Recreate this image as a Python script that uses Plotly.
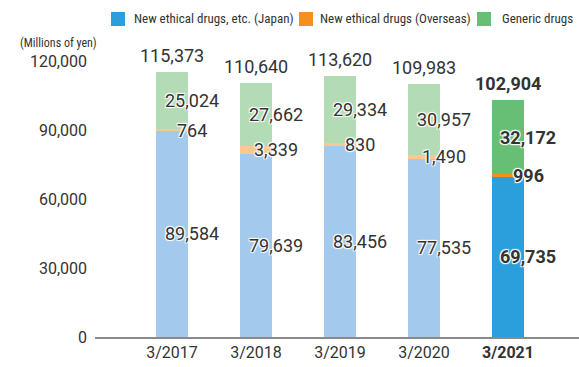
import plotly.graph_objects as go

# Fiscal years
years = ["3/2017", "3/2018", "3/2019", "3/2020", "3/2021"]

# Net sales by segment (millions of yen)
japan = [89584, 79639, 83456, 77535, 69735]
overseas = [764, 3339, 830, 1490, 996]
generic = [25024, 27662, 29334, 30957, 32172]
totals = [115373, 110640, 113620, 109983, 102904]

series_names = ["New ethical drugs, etc. (Japan)", "New ethical drugs (Overseas)", "Generic drugs"]
dark_colors = ["#2A9FDB", "#F39020", "#66BF75"]
light_colors = ["#A3C9EC", "#FCC88E", "#B3DCB6"]

y_ticks = [0, 30000, 60000, 90000, 120000]

label_font = "Roboto, Arial, sans-serif"
narrow_font = "'Roboto Condensed', 'Liberation Sans Narrow', 'DejaVu Sans Condensed', Roboto, sans-serif"
halo = "1px 1px 1px #fff, -1px -1px 1px #fff, 1px -1px 1px #fff, -1px 1px 1px #fff"

fig = go.Figure()

segments = [japan, overseas, generic]
last = len(years) - 1
for name, vals, dark, light in zip(series_names, segments, dark_colors, light_colors):
    colors = [dark if i == last else light for i in range(len(years))]
    fig.add_trace(go.Bar(
        x=years, y=vals, name=name, width=0.37,
        marker=dict(color=colors, line=dict(width=0)),
        showlegend=False, hoverinfo="skip",
    ))

annotations = []
for i, yr in enumerate(years):
    bold = i == last
    base = 0
    for vals in segments:
        v = vals[i]
        txt = f"{v:,}"
        annotations.append(dict(
            x=yr, y=base + v / 2, text=f"<b>{txt}</b>" if bold else txt,
            showarrow=False, xshift=20, xanchor="center", yanchor="middle",
            font=dict(family=label_font, size=18, color="#333333", shadow=halo),
        ))
        base += v
    t = totals[i]
    annotations.append(dict(
        x=yr, y=t, text=f"<b>{t:,}</b>" if bold else f"{t:,}",
        showarrow=False, yanchor="bottom", yshift=4,
        font=dict(family=label_font, size=18, color="#333333"),
    ))

# Unit label above the value axis
annotations.append(dict(
    x=-0.0764, y=1.065, xref="paper", yref="paper", text="(Millions of yen)",
    showarrow=False, xanchor="center", yanchor="middle",
    font=dict(family=narrow_font, size=12, color="#333333"),
))

# Legend row: colour key squares with their labels
shapes = []
key_x = [0.0331, 0.4215, 0.7893]
text_x = [0.0764, 0.4607, 0.8368]
for name, dark, kx, tx in zip(series_names, dark_colors, key_x, text_x):
    shapes.append(dict(
        type="rect", xref="paper", yref="paper",
        x0=kx, x1=kx + 0.0289, y0=1.1268, y1=1.1775,
        fillcolor=dark, line=dict(width=0),
    ))
    annotations.append(dict(
        x=tx, y=1.1522, xref="paper", yref="paper", text=name,
        showarrow=False, xanchor="left", yanchor="middle",
        font=dict(family=narrow_font, size=13, color="#333333"),
    ))

fig.update_layout(
    width=579, height=367,
    margin=dict(l=95, r=0, t=61, b=30),
    barmode="stack",
    showlegend=False,
    plot_bgcolor="white", paper_bgcolor="white",
    font=dict(family=label_font, color="#333333"),
    annotations=annotations,
    shapes=shapes,
    xaxis=dict(
        type="category", range=[-0.917, 4.845],
        tickvals=years,
        ticktext=[f"<b>{y}</b>" if i == last else y for i, y in enumerate(years)],
        tickfont=dict(size=16, color="#333333"),
        showline=True, linecolor="#8a8a8a", linewidth=1.5,
        ticks="", showgrid=False,
    ),
    yaxis=dict(
        range=[0, 120000], tickvals=y_ticks,
        ticktext=[f"{v:,}" for v in y_ticks],
        tickfont=dict(size=16, color="#333333"),
        showgrid=False, zeroline=False, showline=False, ticks="",
        ticklabelstandoff=7,
    ),
)

fig.write_html("out.html")
